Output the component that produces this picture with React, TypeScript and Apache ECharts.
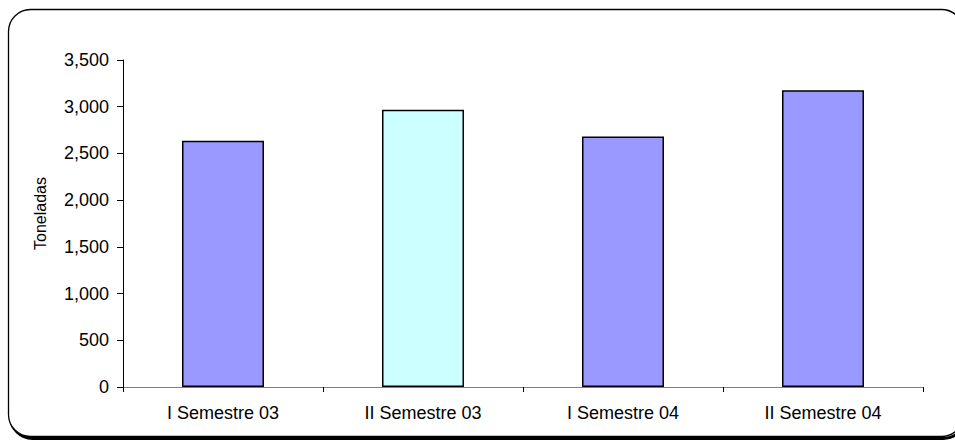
import React, { useEffect, useRef } from "react";
import * as echarts from "echarts";

const categories = ["I Semestre 03", "II Semestre 03", "I Semestre 04", "II Semestre 04"];
const values = [2637, 2968, 2680, 3175];
const barColors = ["#9999FF", "#CCFFFF", "#9999FF", "#9999FF"];
const yAxisName = "Toneladas";

export default function App() {
  const ref = useRef<HTMLDivElement>(null);
  useEffect(() => {
    document.body.style.margin = "0";
    const chart = echarts.init(ref.current!, null, { renderer: "svg" });
    const font = "'Liberation Sans', Arial, sans-serif";
    chart.setOption({
      animation: false,
      backgroundColor: "#ffffff",
      graphic: [
        {
          type: "rect",
          z: -10,
          shape: { x: 10.5, y: 11.5, width: 955, height: 427, r: 22 },
          style: { fill: "none", stroke: "#000", lineWidth: 3 },
          silent: true,
        },
        {
          type: "rect",
          z: -9,
          shape: { x: 8.5, y: 9.5, width: 955, height: 427, r: 22 },
          style: { fill: "#fff", stroke: "#000", lineWidth: 1.3 },
          silent: true,
        },
      ],
      grid: { left: 123, right: 32, top: 60, bottom: 54 },
      xAxis: {
        type: "category",
        data: categories,
        axisLine: { lineStyle: { color: "#808080", width: 1 } },
        axisTick: { show: true, length: 5, lineStyle: { color: "#000" } },
        axisLabel: { color: "#000", fontFamily: font, fontSize: 18, margin: 17 },
      },
      yAxis: {
        type: "value",
        min: 0,
        max: 3500,
        interval: 500,
        name: yAxisName,
        nameLocation: "middle",
        nameGap: 75,
        nameTextStyle: {
          color: "#000",
          fontFamily: font,
          fontSize: 16,
          padding: [0, 0, 0, 20],
        },
        splitLine: { show: false },
        axisLine: { show: true, lineStyle: { color: "#000", width: 1 } },
        axisTick: { show: true, length: 6, lineStyle: { color: "#000" } },
        axisLabel: {
          color: "#000",
          fontFamily: font,
          fontSize: 18,
          margin: 14,
          formatter: (v: number) => v.toLocaleString("en-US"),
        },
      },
      series: [
        {
          type: "bar",
          barWidth: "41%",
          data: values.map((v, i) => ({
            value: v,
            itemStyle: { color: barColors[i], borderColor: "#000", borderWidth: 1.5 },
          })),
        },
      ],
    });
    return () => chart.dispose();
  }, []);
  return <div ref={ref} style={{ position: "absolute", left: 0, top: 0, width: 955, height: 441 }} />;
}
